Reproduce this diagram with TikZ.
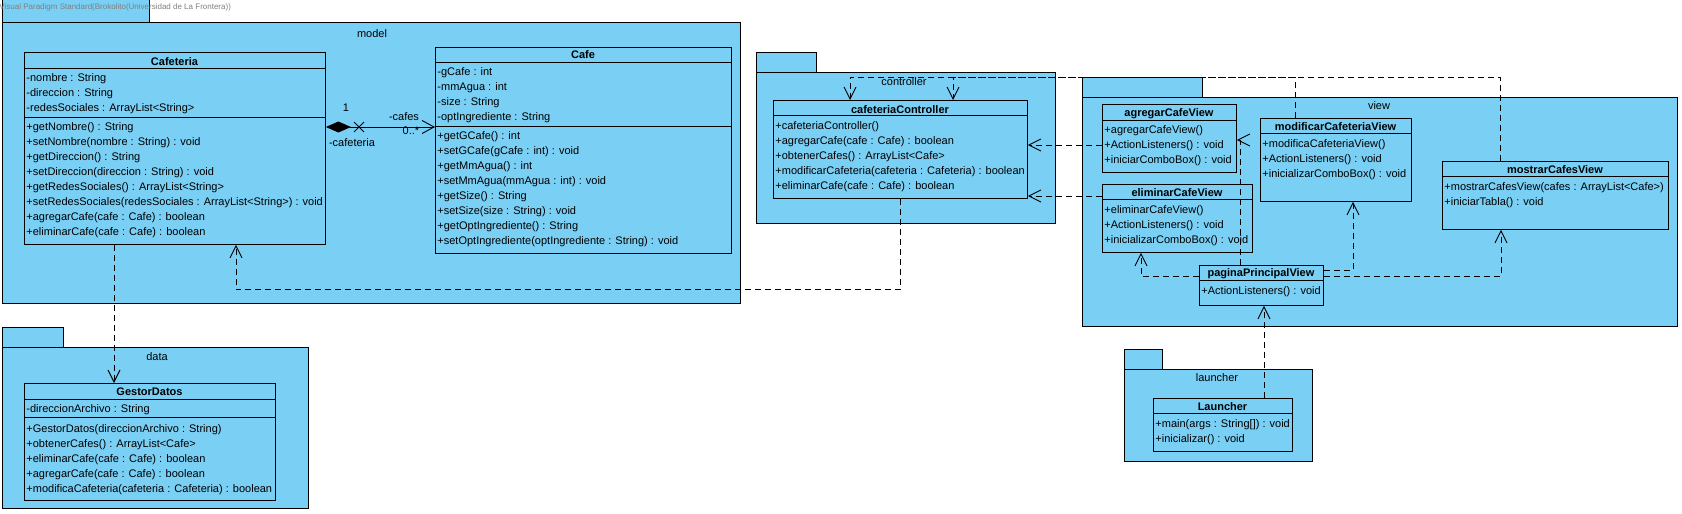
\documentclass[tikz,border=0pt]{standalone}
\usepackage{fontspec}
\setmainfont{Liberation Sans}
\usetikzlibrary{arrows.meta}
\definecolor{vpblue}{RGB}{122,207,245}
\tikzset{
	pkg/.style={draw, fill=vpblue},
	cls/.style={draw, fill=vpblue, anchor=north west, inner sep=0pt},
	row/.style={anchor=base west, inner sep=0pt},
	title/.style={anchor=base, inner sep=0pt, font=\fontsize{11}{13}\selectfont\bfseries},
	pkgname/.style={anchor=base, inner sep=0pt},
	dep/.style={dash pattern=on 6pt off 4pt, -{Straight Barb[length=12pt,width=12pt]}},
	comp/.style={{Diamond[length=25pt,width=11pt]}-{Straight Barb[length=12pt,width=13pt]}},
}
\begin{document}
\begin{tikzpicture}[x=1pt, y=-1pt, line width=0.9pt, every node/.append style={font=\fontsize{11}{13}\selectfont}]
	\useasboundingbox (0,0) rectangle (1682,514);
	
	% packages
	\draw[pkg] (2,-1) rectangle (149,22);
	\draw[pkg] (2,22) rectangle (740,303);
	\node[pkgname] (model) at (372,37) {model};
	
	\draw[pkg] (756,52) rectangle (816,72);
	\draw[pkg] (756,72) rectangle (1055,223);
	\node[pkgname] (controller) at (904,85) {controller};
	
	\draw[pkg] (1082,77) rectangle (1202,97);
	\draw[pkg] (1082,97) rectangle (1677,326);
	\node[pkgname] (view) at (1379,109) {view};
	
	\draw[pkg] (1124,349) rectangle (1162,369);
	\draw[pkg] (1124,369) rectangle (1312,461);
	\node[pkgname] (launcherpkg) at (1217,381) {launcher};
	
	\draw[pkg] (2,327) rectangle (63,347);
	\draw[pkg] (2,347) rectangle (308,508);
	\node[pkgname] (data) at (157,360) {data};
	
	\node[anchor=west, inner sep=0pt, text=gray, font=\fontsize{8}{9}\selectfont] (vpmark) at (-1,7) {Visual Paradigm Standard(Brokolito(Universidad de La Frontera))};
	
	% Cafeteria
	\node[cls, minimum width=301, minimum height=192] (cafeteria) at (24,52) {};
	\draw (24,68) -- (325,68) (24,117) -- (325,117);
	\node[title] (cafeteria-t) at (174.5,65) {Cafeteria};
	\foreach \m [count=\i from 0] in {-nombre : String, -direccion : String, -redesSociales : ArrayList<String>}
		\node[row] (cafeteria-a\i) at (26,{81.7+15*\i}) {\m};
	\foreach \m [count=\i from 0] in {+getNombre() : String, +setNombre(nombre : String) : void, +getDireccion() : String, +setDireccion(direccion : String) : void, +getRedesSociales() : ArrayList<String>, +setRedesSociales(redesSociales : ArrayList<String>) : void, +agregarCafe(cafe : Cafe) : boolean, +eliminarCafe(cafe : Cafe) : boolean}
		\node[row] (cafeteria-m\i) at (26,{130.7+15*\i}) {\m};
	
	% Cafe
	\node[cls, minimum width=296, minimum height=206] (cafe) at (435,47) {};
	\draw (435,62) -- (731,62) (435,126) -- (731,126);
	\node[title] (cafe-t) at (583,58.3) {Cafe};
	\foreach \m [count=\i from 0] in {-gCafe : int, -mmAgua : int, -size : String, -optIngrediente : String}
		\node[row] (cafe-a\i) at (437,{75.7+15*\i}) {\m};
	\foreach \m [count=\i from 0] in {+getGCafe() : int, +setGCafe(gCafe : int) : void, +getMmAgua() : int, +setMmAgua(mmAgua : int) : void, +getSize() : String, +setSize(size : String) : void, +getOptIngrediente() : String, +setOptIngrediente(optIngrediente : String) : void}
		\node[row] (cafe-m\i) at (437,{139.3+15*\i}) {\m};
	
	% cafeteriaController
	\node[cls, minimum width=254, minimum height=98] (ctrl) at (773,100) {};
	\draw (773,115) -- (1027,115);
	\node[title] (ctrl-t) at (900,113) {cafeteriaController};
	\foreach \m [count=\i from 0] in {+cafeteriaController(), +agregarCafe(cafe : Cafe) : boolean, +obtenerCafes() : ArrayList<Cafe>, +modificarCafeteria(cafeteria : Cafeteria) : boolean, +eliminarCafe(cafe : Cafe) : boolean}
		\node[row] (ctrl-m\i) at (775,{129.3+15*\i}) {\m};
	
	% agregarCafeView
	\node[cls, minimum width=134, minimum height=68] (agregar) at (1102,104) {};
	\draw (1102,120) -- (1236,120);
	\node[title] (agregar-t) at (1169,116.3) {agregarCafeView};
	\foreach \m [count=\i from 0] in {+agregarCafeView(), +ActionListeners() : void, +iniciarComboBox() : void}
		\node[row] (agregar-m\i) at (1104,{133.3+15*\i}) {\m};
	
	% eliminarCafeView
	\node[cls, minimum width=150, minimum height=68] (eliminar) at (1102,184) {};
	\draw (1102,199) -- (1252,199);
	\node[title] (eliminar-t) at (1177,196.3) {eliminarCafeView};
	\foreach \m [count=\i from 0] in {+eliminarCafeView(), +ActionListeners() : void, +inicializarComboBox() : void}
		\node[row] (eliminar-m\i) at (1104,{213.3+15*\i}) {\m};
	
	% modificarCafeteriaView
	\node[cls, minimum width=151, minimum height=83] (modificar) at (1260,118) {};
	\draw (1260,133) -- (1411,133);
	\node[title] (modificar-t) at (1335.5,130.3) {modificarCafeteriaView};
	\foreach \m [count=\i from 0] in {+modificaCafeteriaView(), +ActionListeners() : void, +inicializarComboBox() : void}
		\node[row] (modificar-m\i) at (1262,{147+15*\i}) {\m};
	
	% mostrarCafesView
	\node[cls, minimum width=226, minimum height=68] (mostrar) at (1442,161) {};
	\draw (1442,176) -- (1668,176);
	\node[title] (mostrar-t) at (1555,173) {mostrarCafesView};
	\foreach \m [count=\i from 0] in {+mostrarCafesView(cafes : ArrayList<Cafe>), +iniciarTabla() : void}
		\node[row] (mostrar-m\i) at (1444,{190.7+15*\i}) {\m};
	
	% paginaPrincipalView
	\node[cls, minimum width=124, minimum height=40] (pagina) at (1199,265) {};
	\draw (1199,280) -- (1323,280);
	\node[title] (pagina-t) at (1261,276.7) {paginaPrincipalView};
	\node[row] (pagina-m0) at (1201,294) {+ActionListeners() : void};
	
	% Launcher
	\node[cls, minimum width=139, minimum height=53] (launcher) at (1153,398) {};
	\draw (1153,413) -- (1292,413);
	\node[title] (launcher-t) at (1222.5,410) {Launcher};
	\foreach \m [count=\i from 0] in {+main(args : String[]) : void, +inicializar() : void}
		\node[row] (launcher-m\i) at (1155,{427.3+15*\i}) {\m};
	
	% GestorDatos
	\node[cls, minimum width=251, minimum height=117] (gestor) at (24,383) {};
	\draw (24,399) -- (275,399) (24,417) -- (275,417);
	\node[title] (gestor-t) at (149.5,395) {GestorDatos};
	\node[row] (gestor-a0) at (26,412.3) {-direccionArchivo : String};
	\foreach \m [count=\i from 0] in {+GestorDatos(direccionArchivo : String), +obtenerCafes() : ArrayList<Cafe>, +eliminarCafe(cafe : Cafe) : boolean, +agregarCafe(cafe : Cafe) : boolean, +modificaCafeteria(cafeteria : Cafeteria) : boolean}
		\node[row] (gestor-m\i) at (26,{432.3+15*\i}) {\m};
	
	% composition
	\draw[comp] ([yshift=-75pt]cafeteria.north east) -- ([yshift=-80pt]cafe.north west);
	\coordinate (navx) at (359,127);
	\draw (navx) +(-5,-5) -- +(5,5) (navx) +(-5,5) -- +(5,-5);
	\node[inner sep=0pt] (cafeteria-mult) at (346,108) {1};
	\node[inner sep=0pt] (cafeteria-role) at (352,143) {-cafeteria};
	\node[inner sep=0pt] (cafes-role) at (404,117) {-cafes};
	\node[inner sep=0pt] (cafes-mult) at (411,131) {0..*};
	
	% dependencies
	\draw[dep] ([xshift=90pt]cafeteria.south west) -- ([xshift=90pt]gestor.north west);
	\draw[dep] ([xshift=127pt]ctrl.south west) -- ++(0,91) -| ([xshift=212pt]cafeteria.south west);
	\draw[dep] ([yshift=-41pt]agregar.north west) -- ([yshift=-45pt]ctrl.north east);
	\draw[dep] ([yshift=-12pt]eliminar.north west) -- ([yshift=-96pt]ctrl.north east);
	\draw[dep] ([xshift=35pt]modificar.north west) -- ++(0,-41) -| ([xshift=180pt]ctrl.north west);
	\draw[dep] ([xshift=58pt]mostrar.north west) -- ++(0,-84) -| ([xshift=77pt]ctrl.north west);
	
	\draw[dep] ([yshift=-11pt]pagina.north west) -| ([xshift=39pt]eliminar.south west);
	\draw[dep] ([xshift=41pt]pagina.north west) |- ([yshift=-36pt]agregar.north east);
	\draw[dep] ([yshift=-5pt]pagina.north east) -| ([xshift=93pt]modificar.south west);
	\draw[dep] ([yshift=-11pt]pagina.north east) -| ([xshift=59pt]mostrar.south west);
	\draw[dep] ([xshift=111pt]launcher.north west) -- ([xshift=65pt]pagina.south west);
\end{tikzpicture}
\end{document}
